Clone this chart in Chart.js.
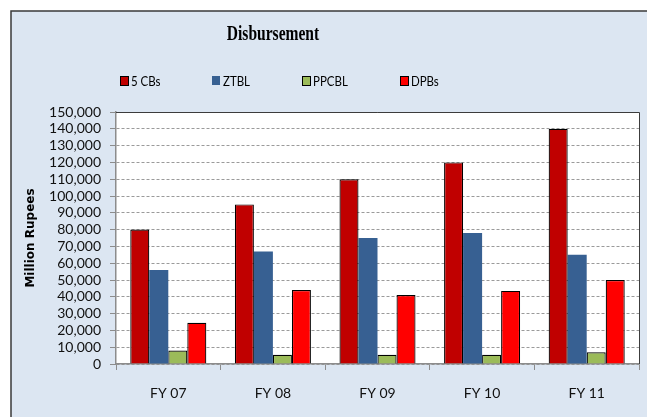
<!DOCTYPE html>
<html>
<head>
<meta charset="utf-8">
<style>
  html, body { margin: 0; padding: 0; background: #ffffff; }
  #wrap { width: 647px; height: 417px; }
</style>
<script src="https://cdn.jsdelivr.net/npm/chart.js@4"></script>
</head>
<body>
<div id="wrap"><canvas id="disbursement" width="647" height="417"></canvas></div>
<script>
const years = ['FY 07', 'FY 08', 'FY 09', 'FY 10', 'FY 11'];
const cbs5 = [80000, 95000, 110000, 120000, 140000];
const ztbl = [56000, 67000, 75000, 78000, 65000];
const ppcbl = [8000, 5500, 5500, 5500, 7000];
const dpbs = [24500, 44000, 41000, 43500, 50000];
const seriesNames = ['5 CBs', 'ZTBL', 'PPCBL', 'DPBs'];
const seriesColors = ['#c00000', '#376092', '#9bbb59', '#ff0000'];

// frame, plot background, title and legend drawn around the chart
const framePlugin = {
    id: 'frame',
    beforeDraw(chart) {
        const ctx = chart.ctx;
        const a = chart.chartArea;
        ctx.save();
        ctx.fillStyle = '#dce6f2';
        ctx.fillRect(11, 11, 660, 420);
        ctx.strokeStyle = '#3a3a3a';
        ctx.lineWidth = 1.5;
        ctx.strokeRect(11, 11, 660, 420);
        ctx.fillStyle = '#ffffff';
        ctx.fillRect(a.left, a.top, a.right - a.left, a.bottom - a.top);
        ctx.restore();
    },
    afterDraw(chart) {
        const ctx = chart.ctx;
        const a = chart.chartArea;
        ctx.save();
        // plot border top / right
        ctx.strokeStyle = '#3c3c3c';
        ctx.lineWidth = 1;
        ctx.beginPath();
        ctx.moveTo(a.left, a.top + 0.5);
        ctx.lineTo(a.right + 0.5, a.top + 0.5);
        ctx.lineTo(a.right + 0.5, a.bottom);
        ctx.stroke();

        // title
        ctx.fillStyle = '#000000';
        ctx.textBaseline = 'middle';
        ctx.textAlign = 'center';
        ctx.translate(273, 35);
        ctx.scale(0.74, 1);
        ctx.font = 'bold 21px "Liberation Serif"';
        ctx.fillText('Disbursement', 0, 0);
        ctx.restore();

        // legend
        const boxX = [120, 212, 302, 400];
        ctx.save();
        chart.data.datasets.forEach((ds, i) => {
            ctx.fillStyle = ds.backgroundColor;
            ctx.fillRect(boxX[i], 76, 8, 9);
            if (ds.borderWidth) {
                ctx.strokeStyle = '#000000';
                ctx.lineWidth = 1;
                ctx.strokeRect(boxX[i] + 0.5, 76.5, 8, 9);
            }
            ctx.save();
            ctx.fillStyle = '#000000';
            ctx.textBaseline = 'middle';
            ctx.textAlign = 'left';
            ctx.translate(boxX[i] + 11, 81);
            ctx.scale(0.82, 1);
            ctx.font = '14px Lato';
            ctx.fillText(ds.label, 0, 0);
            ctx.restore();
        });
        ctx.restore();
    }
};

const datasets = [cbs5, ztbl, ppcbl, dpbs].map((vals, i) => ({
    label: seriesNames[i],
    data: vals,
    backgroundColor: seriesColors[i],
    borderColor: '#000000',
    borderWidth: i === 1 ? 0 : 1.2,
    borderSkipped: 'bottom',
    categoryPercentage: 0.727,
    barPercentage: 1.0
}));

new Chart(document.getElementById('disbursement'), {
    type: 'bar',
    data: { labels: years, datasets: datasets },
    options: {
        responsive: false,
        animation: false,
        layout: { padding: { top: 112, right: 8, left: 20, bottom: 0 } },
        plugins: {
            legend: { display: false },
            title: { display: false },
            tooltip: { enabled: false }
        },
        scales: {
            x: {
                afterFit(scale) { scale.height = 53; },
                grid: {
                    offset: true,
                    drawOnChartArea: false,
                    color: '#8c8c8c',
                    tickLength: 6,
                    tickBorderDash: []
                },
                border: { color: '#8c8c8c', width: 1.5 },
                ticks: {
                    color: '#111111',
                    font: { family: 'Lato', size: 14 },
                    padding: 15
                }
            },
            y: {
                min: 0,
                max: 150000,
                afterFit(scale) { scale.width = 96; },
                ticks: {
                    stepSize: 10000,
                    autoSkip: false,
                    color: '#111111',
                    font: { family: 'Lato', size: 14, lineHeight: 1 },
                    padding: 9,
                    callback: v => v.toLocaleString('en-US')
                },
                grid: {
                    color: '#9a9a9a',
                    lineWidth: 1,
                    tickLength: 6,
                    tickColor: '#8c8c8c',
                    tickBorderDash: []
                },
                border: { color: '#8c8c8c', width: 1.5, dash: [3, 2] },
                title: {
                    display: true,
                    text: 'Million Rupees',
                    color: '#000000',
                    font: { family: 'DejaVu Sans', size: 12, weight: 'bold' },
                    padding: { top: 4, bottom: 0 }
                }
            }
        }
    },
    plugins: [framePlugin]
});
</script>
</body>
</html>
